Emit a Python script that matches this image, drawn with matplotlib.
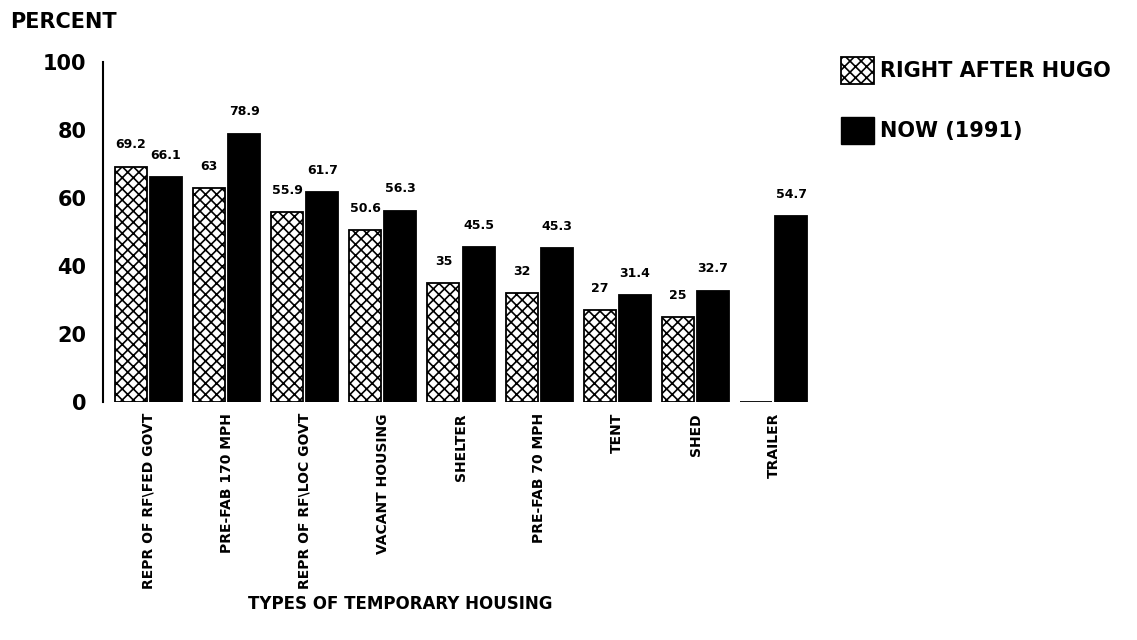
import matplotlib
matplotlib.use("Agg")
import matplotlib.pyplot as plt
import numpy as np
from matplotlib.patches import Patch

categories = ["REPR OF RF\\FED GOVT", "PRE-FAB 170 MPH", "REPR OF RF\\LOC GOVT",
              "VACANT HOUSING", "SHELTER", "PRE-FAB 70 MPH", "TENT", "SHED", "TRAILER"]
right_after = [69.2, 63, 55.9, 50.6, 35, 32, 27, 25, 0]
now_1991 = [66.1, 78.9, 61.7, 56.3, 45.5, 45.3, 31.4, 32.7, 54.7]
right_after_labels = ["69.2", "63", "55.9", "50.6", "35", "32", "27", "25", ""]
now_labels = ["66.1", "78.9", "61.7", "56.3", "45.5", "45.3", "31.4", "32.7", "54.7"]
yticks = [0, 20, 40, 60, 80, 100]

plt.rcParams['hatch.linewidth'] = 1.2
fig = plt.figure(figsize=(11.37, 6.4), dpi=100)
ax = fig.add_axes([0.0906, 0.372, 0.627, 0.531])

x = np.arange(len(categories))
w = 0.41
off = 0.225
ax.bar(x - off, right_after, w, facecolor="white", edgecolor="black",
       hatch="xxx", linewidth=1.3, label="RIGHT AFTER HUGO")
ax.bar(x + off, now_1991, w, facecolor="black", edgecolor="black",
       linewidth=1.3, label="NOW (1991)")

for xi, v, t in zip(x - off, right_after, right_after_labels):
    if t:
        ax.text(xi, v + 4.5, t, ha="center", va="bottom", fontsize=9, fontweight="bold")
for xi, v, t in zip(x + off, now_1991, now_labels):
    ax.text(xi, v + 4.5, t, ha="center", va="bottom", fontsize=9, fontweight="bold")

ax.set_xlim(-0.58, 8.54)
ax.set_ylim(0, 100)
ax.set_yticks(yticks)
ax.set_yticklabels([str(t) for t in yticks], fontsize=15, fontweight="bold")
ax.set_xticks(x)
ax.set_xticklabels(categories, rotation=90, fontsize=10, fontweight="bold", va="top")
ax.tick_params(axis="y", length=0, pad=12)
ax.tick_params(axis="x", length=0, pad=8)
for s in ["top", "right", "bottom"]:
    ax.spines[s].set_visible(False)
ax.spines["left"].set_linewidth(1.5)

fig.text(10 / 1137, 1 - 22 / 640, "PERCENT", fontsize=15, fontweight="bold", va="center", ha="left")
fig.text(400 / 1137, 1 - 604 / 640, "TYPES OF TEMPORARY HOUSING", fontsize=12,
         fontweight="bold", va="center", ha="center")

handles = [Patch(facecolor="white", edgecolor="black", hatch="xxx", linewidth=1.3),
           Patch(facecolor="black", edgecolor="black")]
fig.legend(handles, ["RIGHT AFTER HUGO", "NOW (1991)"], loc="upper left",
           bbox_to_anchor=(822 / 1137, 1 - 38 / 640), frameon=False,
           prop={"size": 15, "weight": "bold"}, handlelength=1.6, handleheight=1.6,
           labelspacing=1.6, handletextpad=0.3)

fig.savefig("out.png", dpi=100)
